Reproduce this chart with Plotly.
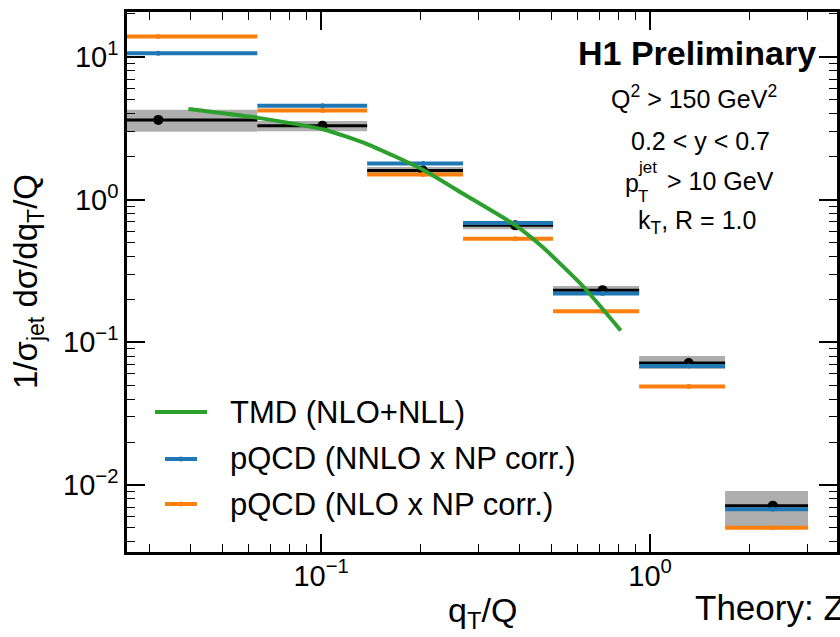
import plotly.graph_objects as go

# ---------------- data ----------------
bin_edges = [0.0, 0.064, 0.138, 0.270, 0.507, 0.926, 1.69, 3.02]
bin_centers = [0.032, 0.101, 0.204, 0.389, 0.717, 1.31, 2.36]
data_vals = [3.62, 3.29, 1.60, 0.660, 0.232, 0.0716, 0.00716]
data_lo = [2.99, 3.02, 1.51, 0.620, 0.216, 0.0650, 0.00493]
data_hi = [4.26, 3.55, 1.69, 0.700, 0.248, 0.0800, 0.00908]
nnlo_vals = [10.6, 4.54, 1.79, 0.685, 0.220, 0.0682, 0.00676]
nlo_vals = [13.9, 4.22, 1.50, 0.531, 0.165, 0.0490, 0.00502]
tmd_x = [0.0395, 0.0644, 0.102, 0.138, 0.204, 0.270, 0.390, 0.473, 0.625, 0.814]
tmd_y = [4.31, 3.74, 3.10, 2.45, 1.62, 1.10, 0.66, 0.461, 0.247, 0.121]

legend_labels = ["TMD (NLO+NLL)", "pQCD (NNLO x NP corr.)", "pQCD (NLO x NP corr.)"]
x_major = [0.1, 1.0]
x_major_text = ["10<sup>\u22121</sup>", "10<sup>0</sup>"]
y_major = [0.01, 0.1, 1.0, 10.0]
y_major_text = ["10<sup>\u22122</sup>", "10<sup>\u22121</sup>", "10<sup>0</sup>", "10<sup>1</sup>"]

# ---------------- style ----------------
FONT = "Liberation Sans, Arial, Helvetica, sans-serif"
BLUE = "#1f77b4"
ORANGE = "#ff7f0e"
GREEN = "#2ca02c"
W, H = 840, 637
L, R, T, B = 127, 3, 12, 85
pw, ph = W - L - R, H - T - B
X_RANGE = [-1.59, 0.568]
Y_RANGE = [-2.47, 1.315]


def pxx(x):
    return (x - L) / pw


def pyy(y):
    return (H - B - y) / ph


def edge(v):
    # the first bin starts at 0, which a log axis cannot show: start it off-axis
    return v if v > 0 else 1e-3


lows = [edge(v) for v in bin_edges[:-1]]
highs = bin_edges[1:]

fig = go.Figure()

# data uncertainty boxes
for lo_x, hi_x, lo_y, hi_y in zip(lows, highs, data_lo, data_hi):
    fig.add_trace(go.Scatter(
        x=[lo_x, hi_x, hi_x, lo_x, lo_x], y=[lo_y, lo_y, hi_y, hi_y, lo_y],
        mode="lines", fill="toself", fillcolor="rgba(120,120,120,0.6)",
        line=dict(width=0), hoverinfo="skip", showlegend=False))


def segments(vals):
    xs, ys = [], []
    for lo_x, hi_x, v in zip(lows, highs, vals):
        xs += [lo_x, hi_x, None]
        ys += [v, v, None]
    return xs, ys


# data lines + points
xs, ys = segments(data_vals)
fig.add_trace(go.Scatter(x=xs, y=ys, mode="lines", line=dict(color="black", width=3),
                         showlegend=False, hoverinfo="skip"))
fig.add_trace(go.Scatter(x=bin_centers, y=data_vals, mode="markers",
                         marker=dict(color="black", size=10), showlegend=False))

# pQCD predictions
for vals, col in [(nnlo_vals, BLUE), (nlo_vals, ORANGE)]:
    xs, ys = segments(vals)
    fig.add_trace(go.Scatter(x=xs, y=ys, mode="lines", line=dict(color=col, width=4),
                             showlegend=False, hoverinfo="skip"))
    fig.add_trace(go.Scatter(x=bin_centers, y=vals, mode="markers",
                             marker=dict(color=col, size=5), showlegend=False))

# TMD curve
fig.add_trace(go.Scatter(x=tmd_x, y=tmd_y, mode="lines",
                         line=dict(color=GREEN, width=4, shape="spline", smoothing=0.5),
                         showlegend=False))

# ---------------- axes ----------------
x_minor = [m * 10 ** e for e in (-2, -1, 0) for m in range(2, 10)]
y_minor = [m * 10 ** e for e in (-3, -2, -1, 0, 1) for m in range(2, 10)]

axis_common = dict(
    type="log", showgrid=False, zeroline=False, showline=True, linecolor="black",
    linewidth=2.5, mirror="allticks", ticks="inside", ticklen=18, tickwidth=1.5,
    tickcolor="black", tickfont=dict(family=FONT, size=29, color="black"),
    tickmode="array",
)
fig.update_xaxes(**axis_common, range=X_RANGE, tickvals=x_major, ticktext=x_major_text,
                 ticklabelstandoff=-4,
                 minor=dict(tickmode="array", tickvals=x_minor, ticks="inside", ticklen=8,
                            tickwidth=1, tickcolor="black", showgrid=False))
fig.update_yaxes(**axis_common, range=Y_RANGE, tickvals=y_major, ticktext=y_major_text,
                 minor=dict(tickmode="array", tickvals=y_minor, ticks="inside", ticklen=8,
                            tickwidth=1, tickcolor="black", showgrid=False))

annotations = []


def text(x, y, s, size, xanchor="center", **kw):
    annotations.append(dict(xref="paper", yref="paper", x=pxx(x), y=pyy(y), text=s,
                            showarrow=False, xanchor=xanchor, yanchor="middle",
                            borderpad=0,
                            font=dict(family=FONT, size=size, color="black"), **kw))


# axis titles
text(28, 282, "1/\u03c3<sub>jet</sub> d\u03c3/dq<sub>T</sub>/Q", 33, textangle=-90)
text(482, 612, "q<sub>T</sub>/Q", 34)
text(694, 607, "Theory: Z", 35, xanchor="left")

# plot labels
text(697, 53, "<b>H1 Preliminary</b>", 34)
text(694, 97, "Q<sup>2</sup> &gt; 150 GeV<sup>2</sup>", 25)
text(700, 141, "0.2 &lt; y &lt; 0.7", 25)
# p_T^jet > 10 GeV, built from pieces so that sub- and superscript stack
text(624, 183, "p", 25, xanchor="left")
text(637, 168, "jet", 17, xanchor="left")
text(637, 196, "T", 17, xanchor="left")
text(666, 181, "&gt; 10 GeV", 25, xanchor="left")
text(697, 222, "k<sub>T</sub>, R = 1.0", 25)

# manual legend
shapes = []
leg_rows = [(412, GREEN, 155, 207, False), (459, BLUE, 165, 197, True), (504, ORANGE, 165, 197, True)]
for (yy, col, x0, x1, dot), lab in zip(leg_rows, legend_labels):
    shapes.append(dict(type="line", xref="paper", yref="paper", x0=pxx(x0), x1=pxx(x1),
                       y0=pyy(yy), y1=pyy(yy), line=dict(color=col, width=4)))
    if dot:
        cx = (x0 + x1) / 2
        shapes.append(dict(type="circle", xref="paper", yref="paper",
                           x0=pxx(cx - 2.5), x1=pxx(cx + 2.5), y0=pyy(yy + 2.5), y1=pyy(yy - 2.5),
                           fillcolor=col, line=dict(color=col, width=0)))
    text(229, yy, lab, 31, xanchor="left")

fig.update_layout(
    width=W, height=H, margin=dict(l=L, r=R, t=T, b=B, autoexpand=False),
    plot_bgcolor="white", paper_bgcolor="white", showlegend=False,
    annotations=annotations, shapes=shapes,
    font=dict(family=FONT, color="black"),
)

fig.write_html("out.html")
